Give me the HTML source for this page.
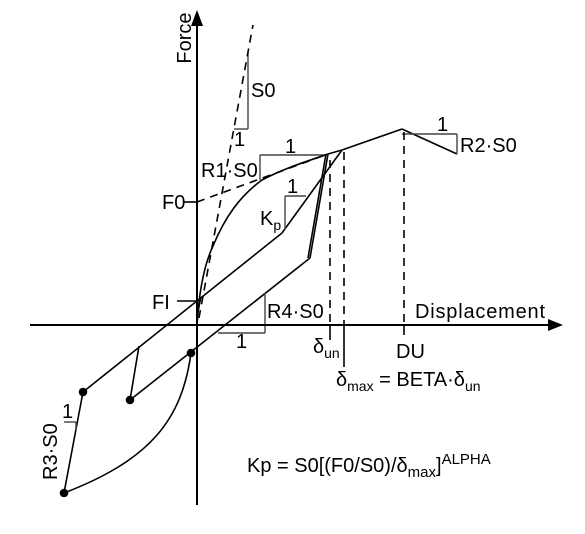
<!DOCTYPE html>
<html><head><meta charset="utf-8"><style>
html,body{margin:0;padding:0;background:#fff;}
svg{display:block;font-family:"Liberation Sans",sans-serif;}
text{font-size:20px;fill:#000;}
</style></head><body>
<svg width="585" height="534" viewBox="0 0 585 534">
<g id="plot" stroke="#000" fill="none" stroke-width="1.6"></g>
<g stroke="#000" stroke-width="2">
  <line x1="30" y1="325" x2="550" y2="325"/>
  <line x1="197" y1="505" x2="197" y2="25"/>
</g>
<polygon points="563,325 548,319 548,331" fill="#000"/>
<polygon points="197,10 191,26 203,26" fill="#000"/>
<text transform="translate(191,38) rotate(-90)" text-anchor="middle">Force</text>
<text x="415" y="318" textLength="130">Displacement</text>
<text x="251" y="97">S0</text>
<text x="234" y="146">1</text>
<text x="201" y="177">R1·S0</text>
<text x="285" y="153">1</text>
<text x="162" y="209">F0</text>
<text x="260" y="225">K<tspan font-size="14" dy="5">p</tspan></text>
<text x="287" y="193">1</text>
<text x="437" y="131">1</text>
<text x="460" y="152">R2·S0</text>
<text x="152" y="309">FI</text>
<text x="267" y="318">R4·S0</text>
<text x="236" y="348">1</text>
<text x="313" y="353">δ<tspan font-size="14" dy="5">un</tspan></text>
<text x="396" y="358">DU</text>
<text x="336" y="386">δ<tspan font-size="14" dy="5">max</tspan><tspan dy="-5"> = BETA·δ</tspan><tspan font-size="14" dy="5">un</tspan></text>
<text x="62" y="418">1</text>
<text transform="translate(57,480) rotate(-90)">R3·S0</text>
<text x="247" y="472">Kp = S0[(F0/S0)/δ<tspan font-size="15" dy="5">max</tspan><tspan dy="-5">]</tspan><tspan font-size="15" dy="-8">ALPHA</tspan></text>
<script>
const solidLines=[
 [[402,129],[457,154]],[[342,150],[402,129]],[[328,154],[342,150]],
 [[282,233],[342,150]],[[282,233],[83,392]],[[328,154],[310,258]],[[326,154],[308,258]],
 [[310,258],[130,400]],[[139,346],[130,400]],[[64,493],[83,392]],
 [[183,202],[197,202]],[[177,301],[197,301]],
 [[330,325],[330,340]],[[344,325],[344,367]],[[404,325],[404,335]]
];
const triLines=[
 [[234,129],[248,129]],[[248,129],[248,52]],[[260,155],[328,155]],[[260,155],[260,180]],
 [[285,196],[306,196]],[[285,196],[285,230]],[[402,134],[457,134]],[[457,134],[457,154]],
 [[64,422],[76,422]],[[76,422],[76,430]]
];
const dashLines=[
 [[199,318],[253,25]],[[197,202],[328,154]],[[330,160],[330,325]],[[344,152],[344,325]],[[404,132],[404,325]]
];
const curves=["M197,325 C199,292 204,265 213,246 C225,217 240,196 262,180 C285,168 305,162 328,154",
 "M191,353 C182,420 150,460 64,493",
 "M197,322 C198,310 199,305 201,297"];
const dots=[[83,392],[130,400],[64,493],[191,353]];
const g=document.getElementById('plot');
const NS='http://www.w3.org/2000/svg';
function ln(p,dash,gray){const l=document.createElementNS(NS,'line');
 l.setAttribute('x1',p[0][0]);l.setAttribute('y1',p[0][1]);l.setAttribute('x2',p[1][0]);l.setAttribute('y2',p[1][1]);
 if(dash)l.setAttribute('stroke-dasharray','8,6');
 if(gray){l.setAttribute('stroke','#444');l.setAttribute('stroke-width','1.4');}
 
 
 g.appendChild(l);}
solidLines.forEach(p=>ln(p,false,false));
triLines.forEach(p=>ln(p,false,true));
ln([[218,333],[265,333]],false,true);ln([[265,333],[265,293]],false,true);
dashLines.forEach(p=>ln(p,true,false));
curves.forEach(d=>{const c=document.createElementNS(NS,'path');c.setAttribute('d',d);
 
 
 g.appendChild(c);});
dots.forEach(p=>{const c=document.createElementNS(NS,'circle');c.setAttribute('cx',p[0]);c.setAttribute('cy',p[1]);c.setAttribute('r',3.5);c.setAttribute('fill','#000');
 
 
 g.appendChild(c);});
</script>
</svg>
</body></html>
